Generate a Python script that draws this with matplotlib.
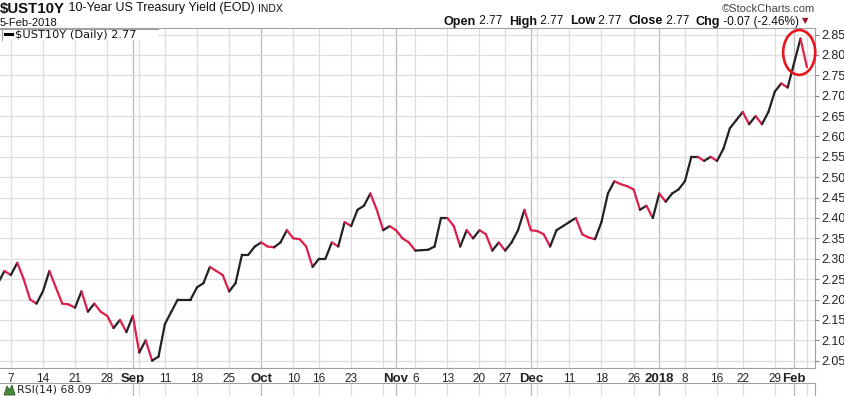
import matplotlib
matplotlib.use('Agg')
import matplotlib.pyplot as plt
import numpy as np
import pandas as pd
from matplotlib.collections import LineCollection
from matplotlib.patches import Ellipse, Rectangle, Polygon
from matplotlib.lines import Line2D

# trading days (bond market holidays removed)
holidays = ['2017-09-04', '2017-10-09', '2017-11-23', '2017-12-25', '2018-01-01', '2018-01-15']
dates = pd.bdate_range('2017-08-03', '2018-02-05')
dates = dates[~dates.isin(pd.to_datetime(holidays))]

# daily closes
aug = [2.24, 2.27, 2.26, 2.29, 2.25, 2.20, 2.19, 2.22, 2.27, 2.23, 2.19, 2.188,
       2.18, 2.22, 2.17, 2.19, 2.17, 2.16, 2.13, 2.15, 2.12]
sep = [2.16, 2.07, 2.10, 2.05, 2.06, 2.14, 2.17, 2.20, 2.20, 2.20,
       2.23, 2.24, 2.28, 2.27, 2.26, 2.22, 2.24, 2.31, 2.31, 2.33]
oct_ = [2.34, 2.33, 2.328, 2.34, 2.37, 2.35, 2.348, 2.33, 2.28, 2.30, 2.30,
        2.34, 2.33, 2.39, 2.38, 2.42, 2.43, 2.46, 2.42, 2.37, 2.38]
nov = [2.37, 2.35, 2.34, 2.32, 2.321, 2.322, 2.33, 2.40, 2.40, 2.38, 2.33,
       2.37, 2.35, 2.37, 2.36, 2.32, 2.34, 2.32, 2.34, 2.37, 2.42]
dec = [2.37, 2.368, 2.36, 2.33, 2.37, 2.38, 2.39, 2.40, 2.36, 2.352, 2.348,
       2.39, 2.46, 2.49, 2.483, 2.478, 2.47, 2.42, 2.43, 2.40]
jan = [2.46, 2.44, 2.46, 2.47, 2.49, 2.55, 2.55, 2.54, 2.55, 2.54, 2.57,
       2.62, 2.64, 2.66, 2.63, 2.65, 2.63, 2.66, 2.71, 2.73, 2.72]
feb = [2.78, 2.84, 2.77]
yields = aug + sep + oct_ + nov + dec + jan + feb

grid_dates = ['2017-08-07', '2017-08-14', '2017-08-21', '2017-08-28', '2017-09-05',
              '2017-09-11', '2017-09-18', '2017-09-25', '2017-10-10', '2017-10-16',
              '2017-10-23', '2017-10-30', '2017-11-06', '2017-11-13', '2017-11-20',
              '2017-11-27', '2017-12-04', '2017-12-11', '2017-12-18', '2017-12-26',
              '2018-01-08', '2018-01-16', '2018-01-22', '2018-01-29', '2018-02-05']
month_dates = ['2017-09-01', '2017-10-02', '2017-11-01', '2017-12-01', '2018-01-02', '2018-02-01']

tick_dates = ['2017-08-07', '2017-08-14', '2017-08-21', '2017-08-28', '2017-09-01',
              '2017-09-11', '2017-09-18', '2017-09-25', '2017-10-02', '2017-10-10',
              '2017-10-16', '2017-10-23', '2017-11-01', '2017-11-06', '2017-11-13',
              '2017-11-20', '2017-11-27', '2017-12-01', '2017-12-11', '2017-12-18',
              '2017-12-26', '2018-01-02', '2018-01-08', '2018-01-16', '2018-01-22',
              '2018-01-29', '2018-02-01']
tick_labels = ['7', '14', '21', '28', 'Sep', '11', '18', '25', 'Oct', '10', '16', '23',
               'Nov', '6', '13', '20', '27', 'Dec', '11', '18', '26', '2018', '8', '16',
               '22', '29', 'Feb']
bold_labels = ['Sep', 'Oct', 'Nov', 'Dec', '2018', 'Feb']

y_ticks = [2.05, 2.10, 2.15, 2.20, 2.25, 2.30, 2.35, 2.40, 2.45, 2.50,
           2.55, 2.60, 2.65, 2.70, 2.75, 2.80, 2.85]

UP = '#222222'
DOWN = '#dc1f4b'
GRID = '#dedede'
MONTH_GRID = '#b8b8b8'
FONT = 'Liberation Sans'

W, H = 844, 396


def px_box(l, t, r, b):
    return [l / W, 1 - b / H, (r - l) / W, (b - t) / H]


def idx(d):
    return dates.get_loc(pd.Timestamp(d))


fig = plt.figure(figsize=(W / 100, H / 100), dpi=100)
ax = fig.add_axes(px_box(0, 28, 815, 368))

x = np.arange(len(yields))
y = np.array(yields)

# grid
for d in grid_dates:
    ax.axvline(idx(d), color=GRID, lw=0.9, zorder=0)
for d in month_dates:
    ax.axvline(idx(d), color=MONTH_GRID, lw=0.9, zorder=0)
for v in y_ticks:
    ax.axhline(v, color=GRID, lw=0.9, zorder=0)

# up/down coloured line
pts = np.column_stack([x, y])
segs = np.stack([pts[:-1], pts[1:]], axis=1)
colors = []
prev = UP
for a, b in zip(y[:-1], y[1:]):
    if b > a:
        prev = UP
    elif b < a:
        prev = DOWN
    colors.append(prev)
lc = LineCollection(segs, colors=colors, linewidths=1.6, capstyle='round', joinstyle='round', zorder=3)
ax.add_collection(lc)

ax.set_xlim(0.31, 127.26)
ax.set_ylim(2.032, 2.866)

ax.yaxis.tick_right()
ax.set_yticks(y_ticks)
ax.set_yticklabels(['%.2f' % v for v in y_ticks], fontsize=9, color='#222222', fontfamily=FONT)
ax.tick_params(axis='y', length=3, color='#888888', pad=1.5)

ax.set_xticks([idx(d) for d in tick_dates])
ax.set_xticklabels(tick_labels, fontfamily=FONT, fontsize=8.5, color='#222222')
for lab in ax.get_xticklabels():
    if lab.get_text() in bold_labels:
        lab.set_fontweight('bold')
        lab.set_fontsize(9.5)
ax.tick_params(axis='x', length=0, pad=3.5)

for s in ['top', 'bottom', 'right']:
    ax.spines[s].set_color('#a0a0a0')
    ax.spines[s].set_linewidth(0.8)
ax.spines['left'].set_visible(False)

# red circle round the last spike
ax.add_patch(Ellipse((124.8, 2.806), 5.0, 0.110, fill=False, edgecolor='#e8141c',
                     lw=1.9, clip_on=False, zorder=5))

# legend strip
fig.add_artist(Rectangle((2 / W, 1 - 39.5 / H), 156 / W, 10.5 / H, transform=fig.transFigure,
                         facecolor='white', edgecolor='none', zorder=4))
fig.add_artist(Line2D([0, 158 / W], [1 - 28.5 / H, 1 - 28.5 / H], transform=fig.transFigure,
                      color='#a0a0a0', lw=0.8, zorder=5))
fig.add_artist(Line2D([1.5 / W, 1.5 / W], [1 - 28 / H, 1 - 40 / H], transform=fig.transFigure,
                      color='#a0a0a0', lw=0.8, zorder=5))
fig.add_artist(Line2D([5 / W, 12 / W], [1 - 34 / H, 1 - 34 / H], transform=fig.transFigure,
                      color='black', lw=2.2, zorder=5))
fig.text(15 / W, 1 - 34.5 / H, '$UST10Y (Daily) 2.77', fontsize=8.2, family='DejaVu Sans',
         va='center', ha='left', color='#111111', zorder=6)

# header
renderer = fig.canvas.get_renderer()


def runs(x0, ypx, parts):
    xp = x0
    for text, weight, size, color in parts:
        t = fig.text(xp / W, 1 - ypx / H, text, fontsize=size, fontweight=weight,
                     family=FONT, color=color, va='center', ha='left')
        xp += t.get_window_extent(renderer).width
    return xp


runs(0, 8.5, [('$UST10Y', 'bold', 10.8, '#111111'),
              (' 10-Year US Treasury Yield (EOD) ', 'normal', 9, '#111111'),
              ('INDX', 'normal', 7.5, '#111111')])
fig.text(0, 1 - 22.5 / H, '5-Feb-2018', fontsize=8, family=FONT, color='#111111',
         va='center', ha='left')

fig.text(815 / W, 1 - 8.5 / H, '\u00a9StockCharts.com', fontsize=8, family=FONT,
         color='#444444', va='center', ha='right')

end = runs(444, 21.5, [('Open', 'bold', 9.1, '#111111'), (' 2.77  ', 'normal', 8.6, '#111111'),
                       ('High', 'bold', 9.1, '#111111'), (' 2.77  ', 'normal', 8.6, '#111111'),
                       ('Low', 'bold', 9.1, '#111111'), (' 2.77  ', 'normal', 8.6, '#111111'),
                       ('Close', 'bold', 9.1, '#111111'), (' 2.77  ', 'normal', 8.6, '#111111'),
                       ('Chg', 'bold', 9.1, '#111111'), (' -0.07 (-2.46%) ', 'normal', 8.6, '#111111')])
fig.text(end / W, 1 - 21 / H, '\u25bc', fontsize=6, family='DejaVu Sans', color='#a0102a',
         va='center', ha='left')

# RSI panel strip at the bottom
rax = fig.add_axes(px_box(0, 383, 815, 396 + 20))
rax.set_xlim(ax.get_xlim())
rax.set_ylim(0, 1)
for d in grid_dates:
    rax.axvline(idx(d), color=GRID, lw=0.9, zorder=0)
for d in month_dates:
    rax.axvline(idx(d), color=MONTH_GRID, lw=0.9, zorder=0)
rax.set_xticks([])
rax.set_yticks([])
for s in ['top', 'right']:
    rax.spines[s].set_color('#a0a0a0')
    rax.spines[s].set_linewidth(0.8)
rax.spines['left'].set_visible(False)
rax.spines['bottom'].set_visible(False)
fig.add_artist(Rectangle((2 / W, 1 - 396 / H), 106 / W, 12 / H, transform=fig.transFigure,
                         facecolor='white', edgecolor='none', zorder=4))
fig.add_artist(Polygon([[4 / W, 1 - 395 / H], [7 / W, 1 - 386 / H], [9.5 / W, 1 - 390 / H],
                        [12 / W, 1 - 385 / H], [15 / W, 1 - 395 / H]], closed=True,
                       transform=fig.transFigure, facecolor='#4a8a3a', edgecolor='#2d5a22',
                       lw=0.6, zorder=5))
fig.text(17 / W, 1 - 390 / H, 'RSI(14) 68.09', fontsize=7.8, family='DejaVu Sans',
         color='#222222', va='center', ha='left', zorder=6)

fig.savefig('out.png', dpi=100)
